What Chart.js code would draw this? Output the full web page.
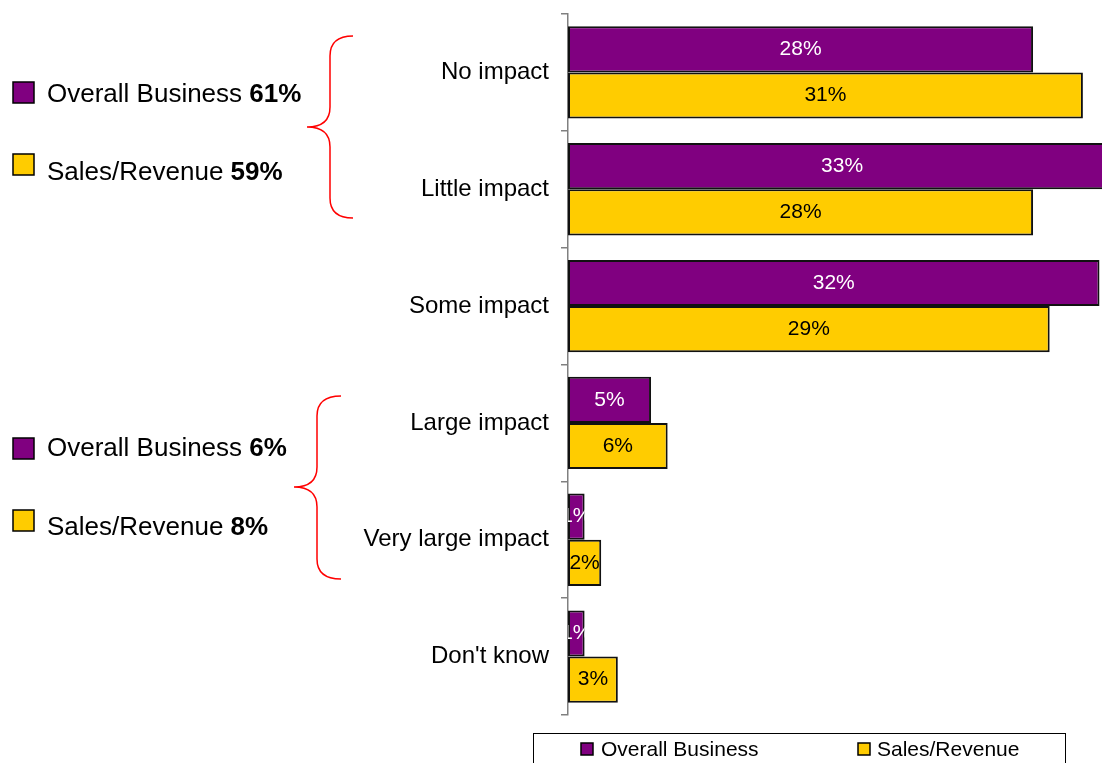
<!DOCTYPE html>
<html>
<head>
<meta charset="utf-8">
<script src="https://cdn.jsdelivr.net/npm/chart.js@4/dist/chart.umd.min.js"></script>
<style>
  html, body { margin: 0; padding: 0; background: #fff; }
  #wrap { position: relative; width: 1102px; height: 763px; }
</style>
</head>
<body>
<div id="wrap"><canvas id="impactChart"></canvas></div>
<script>
// Impact categories and the share of answers per series (%)
const categories = ['No impact', 'Little impact', 'Some impact', 'Large impact', 'Very large impact', "Don't know"];
const overallBusiness = [28, 33, 32, 5, 1, 1];
const salesRevenue = [31, 28, 29, 6, 2, 3];
const seriesNames = ['Overall Business', 'Sales/Revenue'];
const seriesColors = ['#800080', '#FFCC00'];
const labelColors = ['#ffffff', '#000000'];

// Summary groups shown on the left (indices into categories)
const lowGroup = [0, 1];
const highGroup = [3, 4];

const FONT = '"Liberation Sans", Arial, Helvetica, sans-serif';

function groupSum(values, idx) {
    return idx.reduce((s, i) => s + values[i], 0);
}

// Value text centred in each bar, clipped to the bar itself
const barLabels = {
    id: 'barLabels',
    afterDatasetsDraw(chart) {
        const ctx = chart.ctx;
        const area = chart.chartArea;
        chart.data.datasets.forEach((ds, di) => {
            chart.getDatasetMeta(di).data.forEach((bar, i) => {
                const left = Math.min(bar.base, bar.x);
                const right = Math.min(Math.max(bar.base, bar.x), area.right);
                const top = bar.y - bar.height / 2;
                ctx.save();
                ctx.beginPath();
                ctx.rect(left, top, right - left, bar.height);
                ctx.clip();
                ctx.font = '21px ' + FONT;
                ctx.fillStyle = labelColors[di];
                ctx.textAlign = 'center';
                ctx.textBaseline = 'middle';
                ctx.fillText(ds.data[i] + '%', (bar.base + bar.x) / 2, bar.y);
                ctx.restore();
            });
        });
    }
};

function drawBrace(ctx, x, tipX, endX, y0, tipY, y1) {
    const r = 20;
    ctx.beginPath();
    ctx.moveTo(endX, y0);
    ctx.quadraticCurveTo(x, y0, x, y0 + r);
    ctx.lineTo(x, tipY - r);
    ctx.quadraticCurveTo(x, tipY, tipX, tipY);
    ctx.quadraticCurveTo(x, tipY, x, tipY + r);
    ctx.lineTo(x, y1 - r);
    ctx.quadraticCurveTo(x, y1, endX, y1);
    ctx.stroke();
}

function drawSwatch(ctx, x, y, size, color) {
    ctx.fillStyle = color;
    ctx.fillRect(x, y, size, size);
    ctx.strokeStyle = '#000';
    ctx.lineWidth = 1.5;
    ctx.strokeRect(x, y, size, size);
}

function drawSummaryRow(ctx, x, boxY, textY, color, name, value) {
    drawSwatch(ctx, x, boxY - 11, 21, color);
    ctx.fillStyle = '#000';
    ctx.textBaseline = 'middle';
    ctx.textAlign = 'left';
    ctx.font = '26px ' + FONT;
    const label = name + ' ';
    ctx.fillText(label, x + 34, textY);
    const w = ctx.measureText(label).width;
    ctx.font = 'bold 26px ' + FONT;
    ctx.fillText(value + '%', x + 34 + w, textY);
}

// Group summaries with braces, plus the framed legend below the axis
const sideNotes = {
    id: 'sideNotes',
    afterDraw(chart) {
        const ctx = chart.ctx;
        const ds = chart.data.datasets;
        ctx.save();

        drawSummaryRow(ctx, 13, 93, 95, seriesColors[0], seriesNames[0], groupSum(ds[0].data, lowGroup));
        drawSummaryRow(ctx, 13, 165, 173, seriesColors[1], seriesNames[1], groupSum(ds[1].data, lowGroup));
        drawSummaryRow(ctx, 13, 449, 449, seriesColors[0], seriesNames[0], groupSum(ds[0].data, highGroup));
        drawSummaryRow(ctx, 13, 521, 528, seriesColors[1], seriesNames[1], groupSum(ds[1].data, highGroup));

        ctx.strokeStyle = '#ff0000';
        ctx.lineWidth = 1.5;
        drawBrace(ctx, 330, 307, 353, 36, 127, 218);
        drawBrace(ctx, 317, 294, 341, 396, 487, 579);

        // legend frame
        ctx.strokeStyle = '#000';
        ctx.lineWidth = 1;
        ctx.strokeRect(533.5, 733.5, 532, 40);
        const items = [[581, 601], [858, 877]];
        ds.forEach((d, i) => {
            drawSwatch(ctx, items[i][0], 743, 12, d.backgroundColor);
            ctx.fillStyle = '#000';
            ctx.font = '21px ' + FONT;
            ctx.textAlign = 'left';
            ctx.textBaseline = 'middle';
            ctx.fillText(d.label, items[i][1], 750);
        });
        ctx.restore();
    }
};

new Chart(document.getElementById('impactChart'), {
    type: 'bar',
    data: {
        labels: categories,
        datasets: [
            {
                label: seriesNames[0],
                data: overallBusiness,
                backgroundColor: seriesColors[0],
                borderColor: '#111',
                borderWidth: 2,
                borderSkipped: false
            },
            {
                label: seriesNames[1],
                data: salesRevenue,
                backgroundColor: seriesColors[1],
                borderColor: '#111',
                borderWidth: 2,
                borderSkipped: false
            }
        ]
    },
    options: {
        indexAxis: 'y',
        responsive: true,
        maintainAspectRatio: false,
        animation: false,
        layout: { padding: { top: 14, bottom: 48, left: 0, right: 0 } },
        datasets: {
            bar: { categoryPercentage: 0.79, barPercentage: 1.0 }
        },
        plugins: {
            legend: { display: false },
            tooltip: { enabled: false }
        },
        scales: {
            x: {
                display: false,
                min: 0,
                max: 32.15
            },
            y: {
                afterFit(scale) {
                    scale.width = 568;
                    scale.paddingTop = 0;
                    scale.paddingBottom = 0;
                },
                border: { color: '#808080', width: 1.5 },
                grid: {
                    offset: true,
                    drawOnChartArea: false,
                    drawTicks: true,
                    tickLength: 7,
                    color: '#808080',
                    lineWidth: 1.5
                },
                ticks: {
                    color: '#000',
                    padding: 12,
                    font: { family: FONT, size: 24 }
                }
            }
        }
    },
    plugins: [barLabels, sideNotes]
});
</script>
</body>
</html>
